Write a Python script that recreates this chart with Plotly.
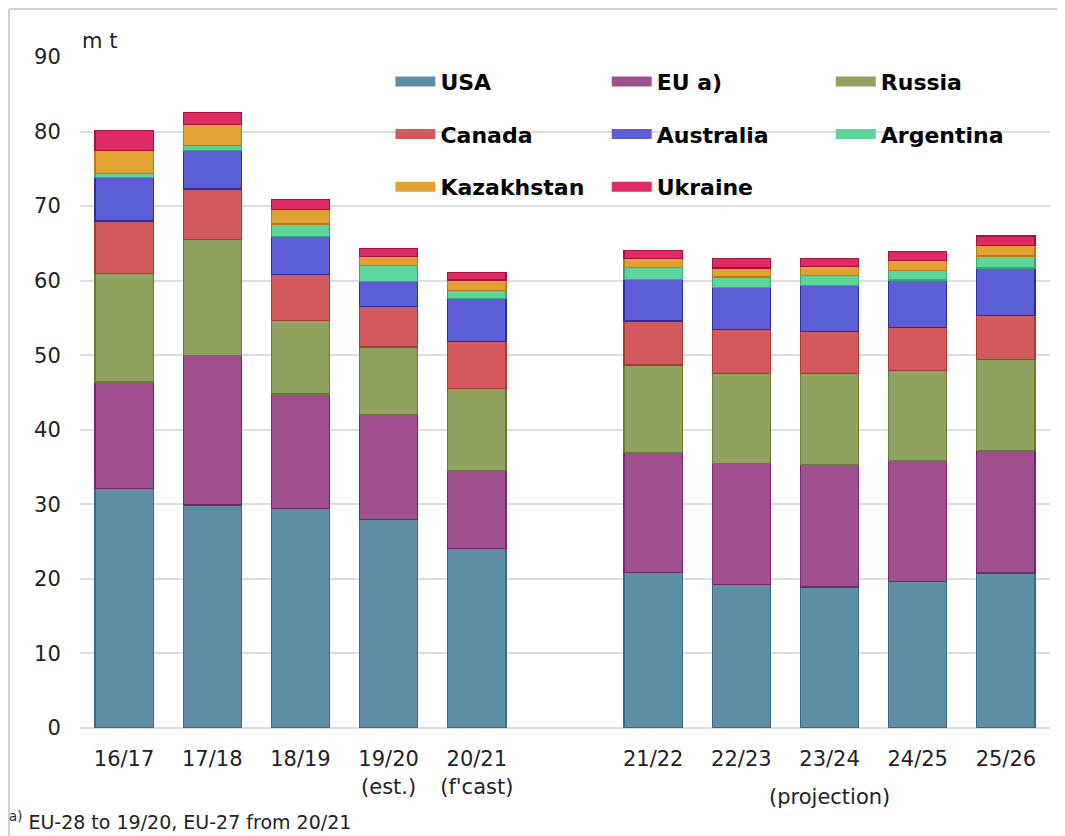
import plotly.graph_objects as go

# Marketing years (blank slot separates estimates from projections)
years = ["16/17", "17/18", "18/19", "19/20<br>(est.)", "20/21<br>(f'cast)", " ",
         "21/22", "22/23", "23/24", "24/25", "25/26"]

# Exports per exporter, m t (None = empty slot)
usa = [32.1, 29.9, 29.4, 28.0, 24.1, None, 20.9, 19.3, 18.9, 19.6, 20.8]
eu = [14.3, 20.1, 15.4, 14.1, 10.4, None, 16.0, 16.2, 16.4, 16.2, 16.4]
russia = [14.6, 15.5, 9.9, 9.0, 11.0, None, 11.8, 12.0, 12.3, 12.2, 12.2]
canada = [7.0, 6.8, 6.1, 5.4, 6.3, None, 5.9, 5.9, 5.6, 5.7, 5.9]
australia = [5.8, 5.2, 5.1, 3.4, 5.8, None, 5.6, 5.7, 6.1, 6.4, 6.4]
argentina = [0.6, 0.6, 1.7, 2.1, 1.1, None, 1.6, 1.4, 1.4, 1.3, 1.6]
kazakhstan = [3.1, 2.9, 1.9, 1.2, 1.4, None, 1.2, 1.2, 1.2, 1.3, 1.4]
ukraine = [2.6, 1.6, 1.4, 1.1, 1.0, None, 1.1, 1.3, 1.1, 1.2, 1.3]

# legend columns: legend = 1st column, legend2 = 2nd, legend3 = 3rd
series = [
    ("USA", usa, '#5f8fa6', '#3c6a80', 'legend'),
    ("EU a)", eu, '#9f4f8d', '#74286a', 'legend2'),
    ("Russia", russia, '#8fa25f', '#66783a', 'legend3'),
    ("Canada", canada, '#d35a5c', '#a83a3e', 'legend'),
    ("Australia", australia, '#5c5ed6', '#2a2ca8', 'legend2'),
    ("Argentina", argentina, '#5dd49a', '#38a872', 'legend3'),
    ("Kazakhstan", kazakhstan, '#e2a233', '#b87a14', 'legend'),
    ("Ukraine", ukraine, '#dd2b64', '#a8103f', 'legend2'),
]

FONT = 'DejaVu Sans'

fig = go.Figure()
for name, values, color, edge, lg in series:
    fig.add_trace(go.Bar(
        x=years, y=values, name=name,
        marker=dict(color=color, line=dict(color=edge, width=1.2)),
        showlegend=False))
    # legend entry drawn as a wide colour bar
    fig.add_trace(go.Scatter(
        x=[None], y=[None], mode='lines', name=name, legendgroup=name,
        line=dict(color=color, width=11), legend=lg))

legend_style = dict(orientation='v', traceorder='grouped', tracegroupgap=21,
                    font=dict(family=FONT, size=22, color='#000000', weight='bold'),
                    bgcolor='rgba(0,0,0,0)', itemwidth=40,
                    xanchor='left', yanchor='top', y=0.9945)

# the page body adds an 8px offset, so the figure is 8px smaller than the window
fig.update_layout(
    barmode='stack',
    bargap=0.34,
    width=1057, height=828,
    margin=dict(l=72, r=15, t=49, b=108),
    plot_bgcolor='white', paper_bgcolor='white',
    font=dict(family=FONT, color='#222222'),
    legend=dict(legend_style, x=0.320),
    legend2=dict(legend_style, x=0.543),
    legend3=dict(legend_style, x=0.774),
    xaxis=dict(type='category', tickfont=dict(size=21), ticks='outside',
               ticklen=12, tickcolor='white', showgrid=False, showline=False),
    yaxis=dict(range=[0, 90], dtick=10, tickfont=dict(size=21),
               gridcolor='#dedede', gridwidth=1.5, zeroline=True,
               zerolinecolor='#dedede', zerolinewidth=1.5,
               ticks='outside', ticklen=14, tickcolor='white'),
)

fig.add_annotation(text="m t", xref='paper', yref='paper', x=0.0, y=1.003,
                   xanchor='left', yanchor='bottom', showarrow=False,
                   font=dict(size=21, color='#222222'))
fig.add_annotation(text="(projection)", xref='x', yref='paper', x="23/24", y=-0.082,
                   xanchor='center', yanchor='top', showarrow=False,
                   font=dict(size=21, color='#222222'))
fig.add_annotation(text="<sup>a)</sup> EU-28 to 19/20, EU-27 from 20/21",
                   xref='paper', yref='paper', x=-0.075, y=-0.118,
                   xanchor='left', yanchor='top', showarrow=False,
                   font=dict(size=19, color='#222222'))

# light frame along the top and left edges
fig.add_shape(type='line', xref='paper', yref='paper', x0=-0.0732, x1=1.0155,
              y0=1.0715, y1=1.0715, line=dict(color='#d0d0d0', width=2))
fig.add_shape(type='line', xref='paper', yref='paper', x0=-0.0732, x1=-0.0732,
              y0=1.0715, y1=-0.161, line=dict(color='#d0d0d0', width=2))

fig.write_html("out.html")
